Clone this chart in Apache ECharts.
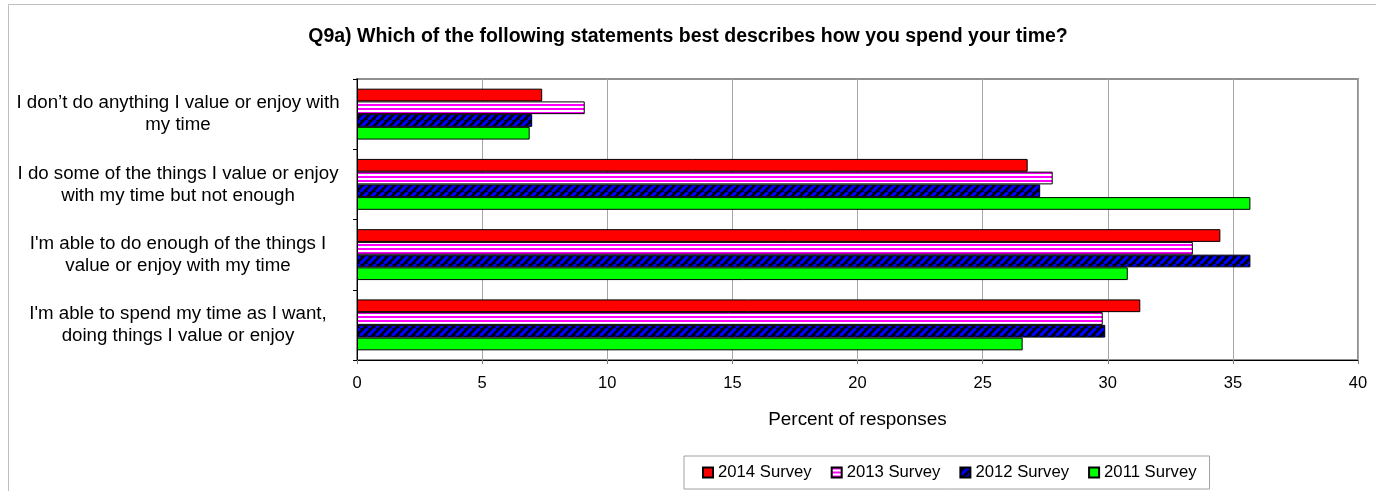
<!DOCTYPE html>
<html>
<head>
<meta charset="utf-8">
<script src="https://cdn.jsdelivr.net/npm/echarts@6/dist/echarts.min.js"></script>
<style>
html,body{margin:0;padding:0;background:#fff;}
#chart{width:1376px;height:491px;}
</style>
</head>
<body>
<div id="chart"></div>
<script>
var titleText = 'Q9a) Which of the following statements best describes how you spend your time?';
var categories = [
  'I don\u2019t do anything I value or enjoy with\nmy time',
  'I do some of the things I value or enjoy\nwith my time but not enough',
  'I\'m able to do enough of the things I\nvalue or enjoy with my time',
  'I\'m able to spend my time as I want,\ndoing things I value or enjoy'
];
var seriesNames = ['2014 Survey', '2013 Survey', '2012 Survey', '2011 Survey'];
var values2014 = [7.4, 26.8, 34.5, 31.3];
var values2013 = [9.1, 27.8, 33.4, 29.8];
var values2012 = [7.0, 27.3, 35.7, 29.9];
var values2011 = [6.9, 35.7, 30.8, 26.6];
var xTicks = [0, 5, 10, 15, 20, 25, 30, 35, 40];

function makePinkPattern() {
  var c = document.createElement('canvas');
  c.width = 4; c.height = 4;
  var g = c.getContext('2d');
  g.fillStyle = '#ffffff'; g.fillRect(0, 0, 4, 4);
  g.fillStyle = '#ff00ff'; g.fillRect(0, 0, 4, 2);
  return c;
}
function makeBluePattern() {
  var s = 8;
  var c = document.createElement('canvas');
  c.width = s; c.height = s;
  var g = c.getContext('2d');
  g.fillStyle = '#000000'; g.fillRect(0, 0, s, s);
  g.strokeStyle = '#0000ff'; g.lineWidth = 3.2;
  for (var k = -1; k <= 1; k++) {
    g.beginPath();
    g.moveTo(k * s, s);
    g.lineTo(k * s + s, 0);
    g.stroke();
  }
  return c;
}

var colors = [
  '#ff0000',
  { image: makePinkPattern(), repeat: 'repeat' },
  { image: makeBluePattern(), repeat: 'repeat' },
  '#00ff00'
];
var allValues = [values2014, values2013, values2012, values2011];
var FONT = '"Liberation Sans", Arial, sans-serif';

var series = seriesNames.map(function (n, i) {
  return {
    name: n,
    type: 'bar',
    data: allValues[i],
    barGap: '0%',
    barCategoryGap: '27.5%',
    itemStyle: { color: colors[i], borderColor: '#000', borderWidth: 1 }
  };
});

var chart = echarts.init(document.getElementById('chart'), null, { renderer: 'canvas' });
chart.setOption({
  animation: false,
  backgroundColor: '#ffffff',
  textStyle: { fontFamily: FONT },
  title: {
    text: titleText,
    left: 'center',
    top: 27,
    padding: 0,
    textStyle: { fontFamily: FONT, fontSize: 19.5, fontWeight: 'bold', color: '#000' }
  },
  graphic: [{
    type: 'rect',
    shape: { x: 8.5, y: 4.5, width: 1500, height: 700 },
    style: { fill: 'none', stroke: '#bfbfbf', lineWidth: 1 },
    silent: true,
    z: -1
  }],
  legend: {
    data: seriesNames,
    left: 684,
    top: 456,
    orient: 'horizontal',
    icon: 'rect',
    itemWidth: 10,
    itemHeight: 10,
    itemGap: 19,
    padding: [8, 13, 8, 18],
    borderColor: '#a0a0a0',
    borderWidth: 1,
    textStyle: { fontFamily: FONT, fontSize: 16.7, color: '#000' }
  },
  grid: {
    left: 357, top: 79, right: 18, bottom: 131,
    show: true, borderColor: '#909090', borderWidth: 2, backgroundColor: 'transparent',
    containLabel: false
  },
  xAxis: {
    type: 'value',
    min: xTicks[0],
    max: xTicks[xTicks.length - 1],
    interval: xTicks[1] - xTicks[0],
    name: 'Percent of responses',
    nameLocation: 'middle',
    nameGap: 50,
    nameTextStyle: { fontFamily: FONT, fontSize: 18.9, color: '#000' },
    axisLine: { show: true, onZero: false, lineStyle: { color: '#000', width: 1 } },
    axisTick: { show: true, length: 4, lineStyle: { color: '#808080' } },
    axisLabel: { fontFamily: FONT, fontSize: 16.5, color: '#000', margin: 15 },
    splitLine: { show: true, lineStyle: { color: '#a6a6a6', width: 1 } }
  },
  yAxis: {
    type: 'category',
    data: categories,
    inverse: true,
    axisLine: { show: true, lineStyle: { color: '#000', width: 1 } },
    axisTick: { show: true, length: 4, lineStyle: { color: '#000' } },
    axisLabel: {
      fontFamily: FONT, fontSize: 18.7, color: '#000',
      align: 'center', margin: 179, lineHeight: 22
    },
    splitLine: { show: false }
  },
  series: series
});
</script>
</body>
</html>
